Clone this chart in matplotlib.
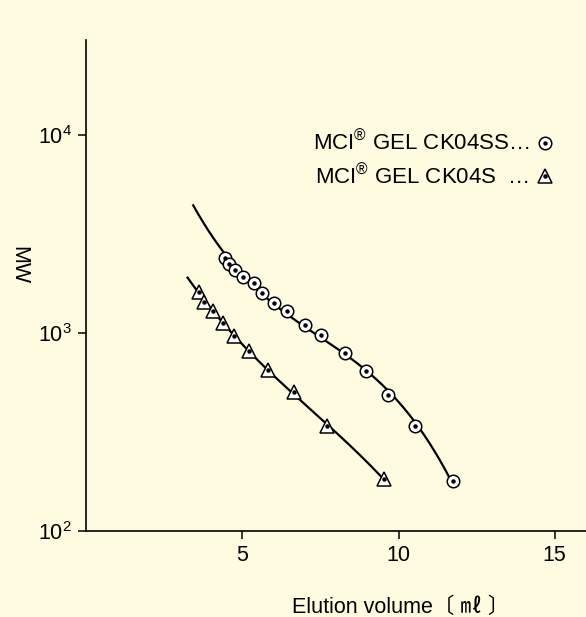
import numpy as np
import matplotlib
matplotlib.use("Agg")
import matplotlib.pyplot as plt
from matplotlib.lines import Line2D
from matplotlib.legend_handler import HandlerTuple

plt.rcParams['font.family'] = ['Liberation Sans', 'Noto Sans CJK JP', 'DejaVu Sans']
plt.rcParams['mathtext.fontset'] = 'custom'
plt.rcParams['mathtext.rm'] = 'Liberation Sans'
plt.rcParams['mathtext.it'] = 'Liberation Sans:italic'

# MCI GEL CK04SS (circles)
ss_vol = [4.44, 4.58, 4.76, 5.03, 5.36, 5.64, 6.02, 6.42, 7.02, 7.52,
          8.28, 8.97, 9.67, 10.54, 11.73]
ss_mw = [2385, 2230, 2065, 1903, 1782, 1585, 1412, 1282, 1089, 969,
         795, 645, 488, 339, 179]
ss_curve_start = (3.43, 4700)

# MCI GEL CK04S (triangles)
s_vol = [3.61, 3.78, 4.05, 4.39, 4.74, 5.22, 5.81, 6.64, 7.72, 9.54]
s_mw = [1599, 1422, 1291, 1120, 966, 811, 650, 501, 338, 182]
s_curve_start = (3.25, 1925)

bg = '#FFFBE0'
fs = 15.5

fig = plt.figure(figsize=(5.86, 6.17), dpi=100, facecolor=bg)
ax = fig.add_axes([86/586, 1-531/617, 1-86/586, (531-40)/617])
ax.set_facecolor(bg)


def fit_curve(vol, mw, start):
    xs = np.array([start[0]] + list(vol))
    ys = np.log10([start[1]] + list(mw))
    p = np.polyfit(xs, ys, 3)
    xx = np.linspace(xs.min(), xs.max(), 200)
    return xx, 10 ** np.polyval(p, xx)


xx, yy = fit_curve(ss_vol, ss_mw, ss_curve_start)
ax.plot(xx, yy, color='black', lw=1.6, zorder=2)
xx, yy = fit_curve(s_vol, s_mw, s_curve_start)
ax.plot(xx, yy, color='black', lw=1.6, zorder=2)

ax.plot(ss_vol, ss_mw, 'o', ms=9, mfc='white', mec='black', mew=1.1, zorder=3)
ax.plot(ss_vol, ss_mw, 'o', ms=2.2, color='black', zorder=4)
ax.plot(s_vol, s_mw, '^', ms=9.5, mfc='white', mec='black', mew=1.1, zorder=3)
ax.plot(s_vol, s_mw, 'o', ms=2.2, color='black', zorder=4)

ax.set_yscale('log')
ax.set_xlim(0, 16)
ax.set_ylim(100, 3e4)
ax.set_xticks([5, 10, 15])
ax.set_yticks([1e2, 1e3, 1e4])
ax.minorticks_off()
ax.tick_params(labelsize=fs, length=6, width=1.1, pad=4)
for side in ['top', 'right']:
    ax.spines[side].set_visible(False)
for side in ['left', 'bottom']:
    ax.spines[side].set_linewidth(1.2)

ax.set_ylabel('MW', fontsize=fs, rotation=270, va='center')
ax.yaxis.set_label_coords(-0.135, 0.542)
fig.text(401/586, 1-607/617, 'Elution volume〔 ㎖ 〕',
         fontsize=fs, ha='center', va='center')

h1 = (Line2D([], [], ls='none', marker='o', ms=9, mfc='white', mec='black', mew=1.1),
      Line2D([], [], ls='none', marker='o', ms=2.2, color='black'))
h2 = (Line2D([], [], ls='none', marker='^', ms=9.5, mfc='white', mec='black', mew=1.1),
      Line2D([], [], ls='none', marker='o', ms=2.2, color='black'))
ax.legend([h1, h2],
          ['MCI$^{\\mathrm{®}}$ GEL CK04SS…', 'MCI$^{\\mathrm{®}}$ GEL CK04S  …'],
          handler_map={tuple: HandlerTuple(ndivide=1, pad=0)},
          markerfirst=False, frameon=False, fontsize=16,
          handlelength=0.8, handletextpad=0.3, labelspacing=0.4,
          borderpad=0, borderaxespad=0,
          loc='upper left', bbox_to_anchor=(313/586, 1-131/617),
          bbox_transform=fig.transFigure)

fig.savefig('out.png', dpi=100, facecolor=bg)
